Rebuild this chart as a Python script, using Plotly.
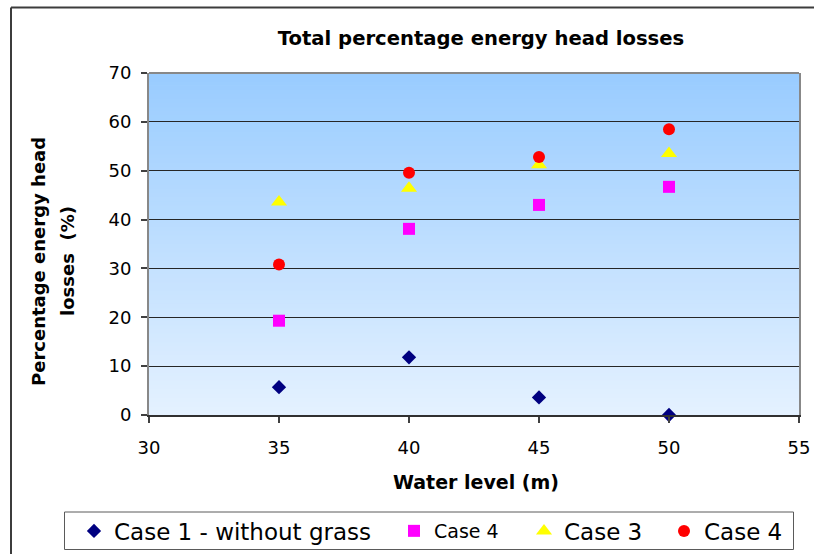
import plotly.graph_objects as go

# ---- data ----
water_level = [35, 40, 45, 50]
case1_without_grass = [5.7, 11.8, 3.6, 0.0]
case4_square = [19.3, 38.1, 43.0, 46.7]
case3_triangle = [43.6, 46.4, 51.2, 53.5]
case4_circle = [30.8, 49.6, 52.8, 58.5]

x_ticks = [30, 35, 40, 45, 50, 55]
y_ticks = [0, 10, 20, 30, 40, 50, 60, 70]

# ---- layout geometry ----
W, H = 814, 554
L, R, T, B = 149, 15, 73, 139
PW, PH = W - L - R, H - T - B
FONT = "DejaVu Sans"


def px(x):
    return (x - L) / PW


def py(y):
    return (H - B - y) / PH


fig = go.Figure()

series = [
    ("Case 1 - without grass", case1_without_grass, "diamond", "#000080", 11, "legend"),
    ("Case 4", case4_square, "square", "#FF00FF", 12, "legend2"),
    ("Case 3", case3_triangle, "triangle-up", "#FFFF00", 14, "legend3"),
    ("Case 4", case4_circle, "circle", "#FF0000", 12, "legend4"),
]
for name, ys, sym, col, size, lg in series:
    fig.add_trace(go.Scatter(
        x=water_level, y=ys, mode="markers", name=name, legend=lg,
        marker=dict(symbol=sym, color=col, size=size, line=dict(width=0)),
        cliponaxis=False,
    ))

# ---- gradient plot background (vertical) ----
shapes = []
N = 80
top = (153, 204, 255)
bot = (228, 241, 255)
for i in range(N):
    t = i / (N - 1)
    c = tuple(round(bot[k] + (top[k] - bot[k]) * t) for k in range(3))
    shapes.append(dict(type="rect", xref="x domain", yref="y domain",
                       x0=0, x1=1, y0=i / N, y1=(i + 1) / N + 0.002,
                       fillcolor="rgb(%d,%d,%d)" % c, line=dict(width=0),
                       layer="below"))
# plot-area border (gray): top and right/left via axis lines
shapes.append(dict(type="line", xref="paper", yref="paper", x0=0, x1=1, y0=1, y1=1,
                   line=dict(color="#888888", width=2), layer="above"))
# outer chart frame: only top and left edges are visible
shapes.append(dict(type="line", xref="paper", yref="paper",
                   x0=px(11), x1=px(815), y0=py(7.5), y1=py(7.5),
                   line=dict(color="#3c3c3c", width=2), layer="above"))
shapes.append(dict(type="line", xref="paper", yref="paper",
                   x0=px(11), x1=px(11), y0=py(7.5), y1=py(556),
                   line=dict(color="#3c3c3c", width=2), layer="above"))
# legend frame
shapes.append(dict(type="rect", xref="paper", yref="paper",
                   x0=px(64.5), x1=px(793.5), y0=py(549.5), y1=py(512),
                   line=dict(color="#5a5a5a", width=1), fillcolor="white",
                   layer="above"))

legend_common = dict(xref="container", yref="container", orientation="h",
                     xanchor="left", yanchor="middle", y=1 - 531 / H,
                     bgcolor="rgba(0,0,0,0)", borderwidth=0, itemwidth=30)

annotations = [
    dict(text="<b>Percentage energy head</b>", textangle=-90,
         xref="paper", yref="paper", x=px(38), y=py(262),
         xanchor="center", yanchor="middle", showarrow=False,
         font=dict(family=FONT, size=18, color="black")),
    dict(text="<b>losses  (%)</b>", textangle=-90,
         xref="paper", yref="paper", x=px(67), y=py(261),
         xanchor="center", yanchor="middle", showarrow=False,
         font=dict(family=FONT, size=18, color="black")),
    dict(text="<b>Water level (m)</b>",
         xref="paper", yref="paper", x=px(476), y=py(482),
         xanchor="center", yanchor="middle", showarrow=False,
         font=dict(family=FONT, size=19, color="black")),
]

fig.update_layout(
    width=W, height=H,
    margin=dict(l=L, r=R, t=T, b=B, pad=0, autoexpand=False),
    paper_bgcolor="white", plot_bgcolor="rgb(190,222,255)",
    font=dict(family=FONT, color="black"),
    title=dict(text="<b>Total percentage energy head losses</b>",
               font=dict(family=FONT, size=19.6, color="black"),
               x=481 / W, xanchor="center", xref="container",
               y=1 - 38 / H, yanchor="middle", yref="container"),
    xaxis=dict(range=[30, 55], tickvals=x_ticks, ticks="outside", ticklen=6,
               tickcolor="#404040", tickwidth=1.5,
               tickfont=dict(family=FONT, size=18, color="black"),
               showgrid=False, zeroline=False, automargin=False,
               ticklabelstandoff=10,
               showline=True, linecolor="#303030", linewidth=1.5, mirror=False),
    yaxis=dict(range=[0, 70], tickvals=y_ticks, ticks="outside", ticklen=6,
               tickcolor="#404040", tickwidth=1.5,
               tickfont=dict(family=FONT, size=18, color="black"),
               showgrid=True, gridcolor="#262626", gridwidth=1.2, zeroline=False,
               automargin=False,
               showline=True, linecolor="#888888", linewidth=2, mirror=True,
               ticklabelstandoff=6),
    legend=dict(legend_common, x=74 / W, font=dict(family=FONT, size=23, color="black")),
    legend2=dict(legend_common, x=394 / W, font=dict(family=FONT, size=19, color="black")),
    legend3=dict(legend_common, x=524 / W, font=dict(family=FONT, size=23, color="black")),
    legend4=dict(legend_common, x=664 / W, font=dict(family=FONT, size=23, color="black")),
    shapes=shapes,
    annotations=annotations,
    showlegend=True,
)

fig.write_html("out.html")
